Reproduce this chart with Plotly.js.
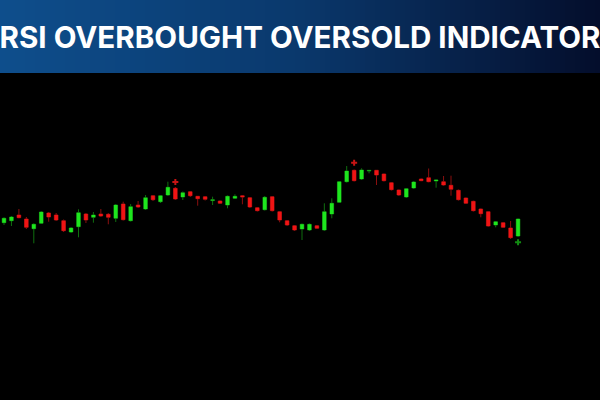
<!DOCTYPE html>
<html>
<head>
<meta charset="utf-8">
<script src="https://cdn.plot.ly/plotly-3.0.1.min.js"></script>
<style>html,body{margin:0;padding:0;background:#000;}#chart{width:600px;height:400px;}</style>
</head>
<body>
<div id="chart"></div>
<script>
// Candle values (arbitrary price units)
const opens  = [27.3,29.3,35,31,21.3,26.7,37,35,29.3,18, 23.3,36,32.7,36,35.7,31.7,46,29.3,45,41, 54.3,48.3,55,61.7,53,58.3,53.7,53.3,49.4,49, 45,51.7,54.3,52.3,42.3,40.3,53.3,38.3,29.3,24.3, 21,20,24.3,20,36,47.7,68.3,79.7,71,79, 79.7,76,67.3,60,53,62,71,72.3,69,68.3, 64.7,59.7,52,48.7,41,38.3,25,27.3,22,14];
const highs  = [32.7,34,41,33,26.7,39,38,37,30.5,23, 40.7,37,38,41,37,46,48.3,46,49,55, 55,55,68.3,63,58.5,59,54,54,53.3,49.5, 54.5,55.7,55,53,43,54,54,39,30,25, 26.5,26.5,25,46.7,51.7,69,84,80.5,81.7,80, 80,76.5,68,60.5,62,69,71.5,81.5,70.5,74, 74.3,60.5,52.5,49.3,41.5,39,29,28,29,31.5];
const lows   = [25,24,31.7,21,6.7,26,28.3,29,18,17, 12.7,27,27.3,33,25.7,28,29.5,28.5,42,40, 49,47,54,50,50,53,44.3,49.5,45,46, 41.7,51,45.7,42,38.5,39.5,38.5,27.7,24,19, 10,19,21,19,31.7,47,67.5,68.5,70,76.7, 65,68.5,59.5,54,52,61,68.8,67.7,62.3,64.3, 54.3,49.5,46,38.5,32.7,23.3,22.7,22,11,13];
const closes = [31.7,33,32.3,22.7,25.7,38,33,30,19.3,22, 37.3,30,35,34,32.7,45,30.3,43.3,43,52.3, 50.3,54.3,62.7,51,57.3,54.3,51.3,50.7,50.2,46.7, 53.7,53.7,53,43,39.3,52.7,39.3,30,25,20, 25.7,25.7,21.7,38.3,46.7,68.3,79,69.3,80,79.6, 75,69.3,60.3,55,61.3,68,69.3,68.3,70,65, 60.7,50.3,46.7,39.3,36.3,24,28.3,22.7,12.3,31];

// RSI signal markers
const sellIdx = [23, 47];
const sellPrice = [68, 87.3];
const buyIdx = [69];
const buyPrice = [7.7];

const title = 'RSI OVERBOUGHT OVERSOLD INDICATOR';

const xs = opens.map((_, i) => i);
const bodyHigh = opens.map((o, i) => Math.max(o, closes[i]));
const bodyLow = opens.map((o, i) => Math.min(o, closes[i]));

const UP = '#1ee61e', DOWN = '#f01414';
const UPWICK = '#0f6e0f', DOWNWICK = '#8a0f0f';

const traces = [
  {
    type: 'candlestick', x: xs, open: opens, high: highs, low: lows, close: closes,
    increasing: {line: {color: UPWICK, width: 1}, fillcolor: 'rgba(0,0,0,0)'},
    decreasing: {line: {color: DOWNWICK, width: 1}, fillcolor: 'rgba(0,0,0,0)'},
    hoverinfo: 'skip'
  },
  {
    type: 'candlestick', x: xs, open: opens, high: bodyHigh, low: bodyLow, close: closes,
    increasing: {line: {color: UP, width: 0}, fillcolor: UP},
    decreasing: {line: {color: DOWN, width: 0}, fillcolor: DOWN},
    hoverinfo: 'skip'
  },
  {
    type: 'scatter', mode: 'markers', x: sellIdx, y: sellPrice,
    marker: {symbol: 'cross', size: 5, color: '#c81414'}, hoverinfo: 'skip'
  },
  {
    type: 'scatter', mode: 'markers', x: buyIdx, y: buyPrice,
    marker: {symbol: 'cross', size: 5, color: '#128a12'}, hoverinfo: 'skip'
  }
];

// banner gradient built from thin strips
function lerp(a, b, t) { return Math.round(a + (b - a) * t); }
const cL = [14, 78, 140], cM = [10, 56, 108], cR = [4, 14, 44];
const shapes = [];
const N = 120;
const bannerBottom = 1 - 73 / 400;
for (let k = 0; k < N; k++) {
  const t = k / (N - 1);
  let c;
  if (t < 0.5) { const u = t / 0.5; c = [0,1,2].map(j => lerp(cL[j], cM[j], u)); }
  else { const u = (t - 0.5) / 0.5; c = [0,1,2].map(j => lerp(cM[j], cR[j], u)); }
  shapes.push({
    type: 'rect', xref: 'paper', yref: 'paper', layer: 'above',
    x0: k / N, x1: (k + 1) / N + 0.002, y0: bannerBottom, y1: 1,
    fillcolor: 'rgb(' + c.join(',') + ')', line: {width: 0}
  });
}

const layout = {
  width: 600, height: 400,
  margin: {l: 0, r: 0, t: 0, b: 0},
  paper_bgcolor: '#000', plot_bgcolor: '#000',
  showlegend: false, hovermode: false, dragmode: false,
  xaxis: {visible: false, range: [-0.537, 80.0], rangeslider: {visible: false}, fixedrange: true},
  yaxis: {visible: false, range: [-150, 250], fixedrange: true},
  shapes: shapes,
  title: {
    text: title, x: 0.5, xanchor: 'center', xref: 'paper',
    y: 1 - 38 / 400, yanchor: 'middle', yref: 'paper', automargin: false,
    font: {family: 'Inter', size: 29.6, color: '#ffffff', weight: 700}
  }
};

Plotly.newPlot('chart', traces, layout, {staticPlot: true, displayModeBar: false});
</script>
</body>
</html>
